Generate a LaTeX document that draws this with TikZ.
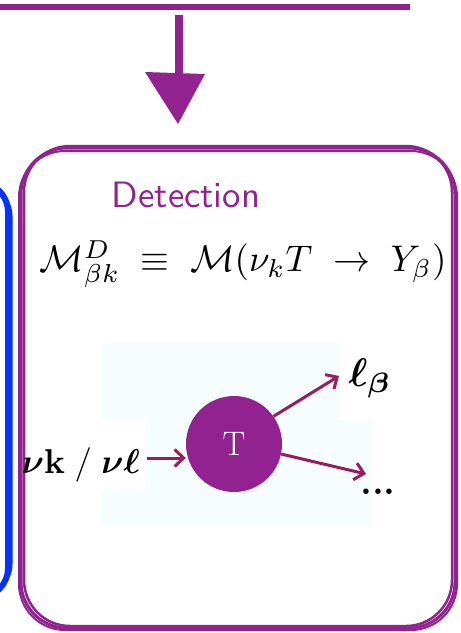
\documentclass[tikz,border=0pt]{standalone}
\usepackage{fix-cm}
\usepackage{amsmath,bm,graphicx}
\usetikzlibrary{arrows.meta}
\definecolor{pur}{RGB}{146,34,144}
\definecolor{arr}{RGB}{155,27,94}
\definecolor{blu}{RGB}{5,50,255}
\definecolor{pale}{RGB}{246,253,255}
\tikzset{
  frame/.style={draw=pur, line width=#1, rounded corners=46pt},
  link/.style={draw=arr, line width=3pt, -{Straight Barb[length=9pt,width=17pt,line width=3pt]}},
}
\begin{document}
\begin{tikzpicture}[x=1pt,y=-1pt]
\useasboundingbox (0,0) rectangle (461,633);
% top bar
\draw[pur, line width=6pt] (0,7) -- (410,7);
% downward arrow
\coordinate (s0) at (179,15);
\coordinate (s1) at (179,76);
\draw[pur, line width=8pt] (s0) -- (s1);
\fill[pur] (145,72) -- (205,74) -- (178,124) -- cycle;
% blue box edge
\begin{scope}
\clip (0,0) rectangle (461,633);
\draw[blu, line width=6pt, rounded corners=30pt] (-120,182) rectangle (8,598);
\draw[blu, line width=3pt, rounded corners=30pt] (-120,186) rectangle (11,594);
\end{scope}
% purple frame (sketchy)
\draw[frame=3pt] (21,148) rectangle (455,628);
\draw[frame=2.5pt] (24,146) rectangle (452,626);
\draw[frame=2pt] (19,151) rectangle (457,630);
% pale background
\fill[pale] (102,343) rectangle (340,420);
\fill[pale] (145,420) rectangle (373,526);
\fill[pale] (102,490) rectangle (145,526);
% title
\node[text=pur, font=\sffamily, inner sep=0pt] (title) at (186,195) {\resizebox{148pt}{!}{Detection}};
% formula
\node[inner sep=0pt] (eq) at (243,264)
  {\resizebox{407pt}{!}{$\mathcal{M}^D_{\beta k}\;\equiv\;\mathcal{M}(\nu_k T\;\to\;Y_\beta)$}};
% diagram
\node[circle, fill=pur, minimum size=96pt, inner sep=0pt, text=white,
      font=\fontsize{34}{36}\selectfont] (T) at (234,444) {T};
\node[inner sep=0pt] (nu) at (81,465)
  {\resizebox{118pt}{!}{$\bm{\nu}\mathbf{k}\;\mathbf{/}\;\bm{\nu}\bm{\ell}$}};
\node[inner sep=0pt] (lb) at (370,378) {\scalebox{4}{$\bm{\ell}_{\bm{\beta}}$}};
\node[inner sep=0pt, font=\fontsize{38}{40}\selectfont\bfseries] (dots) at (378,492) {...};
\coordinate (inA) at (147,458);
\coordinate (out1) at (339,376);
\coordinate (out2) at (366,474);
\draw[link] (inA) -- (T.west |- inA);
\draw[link] (T.35) -- (out1);
\draw[link] (T.-12) -- (out2);
\end{tikzpicture}
\end{document}
